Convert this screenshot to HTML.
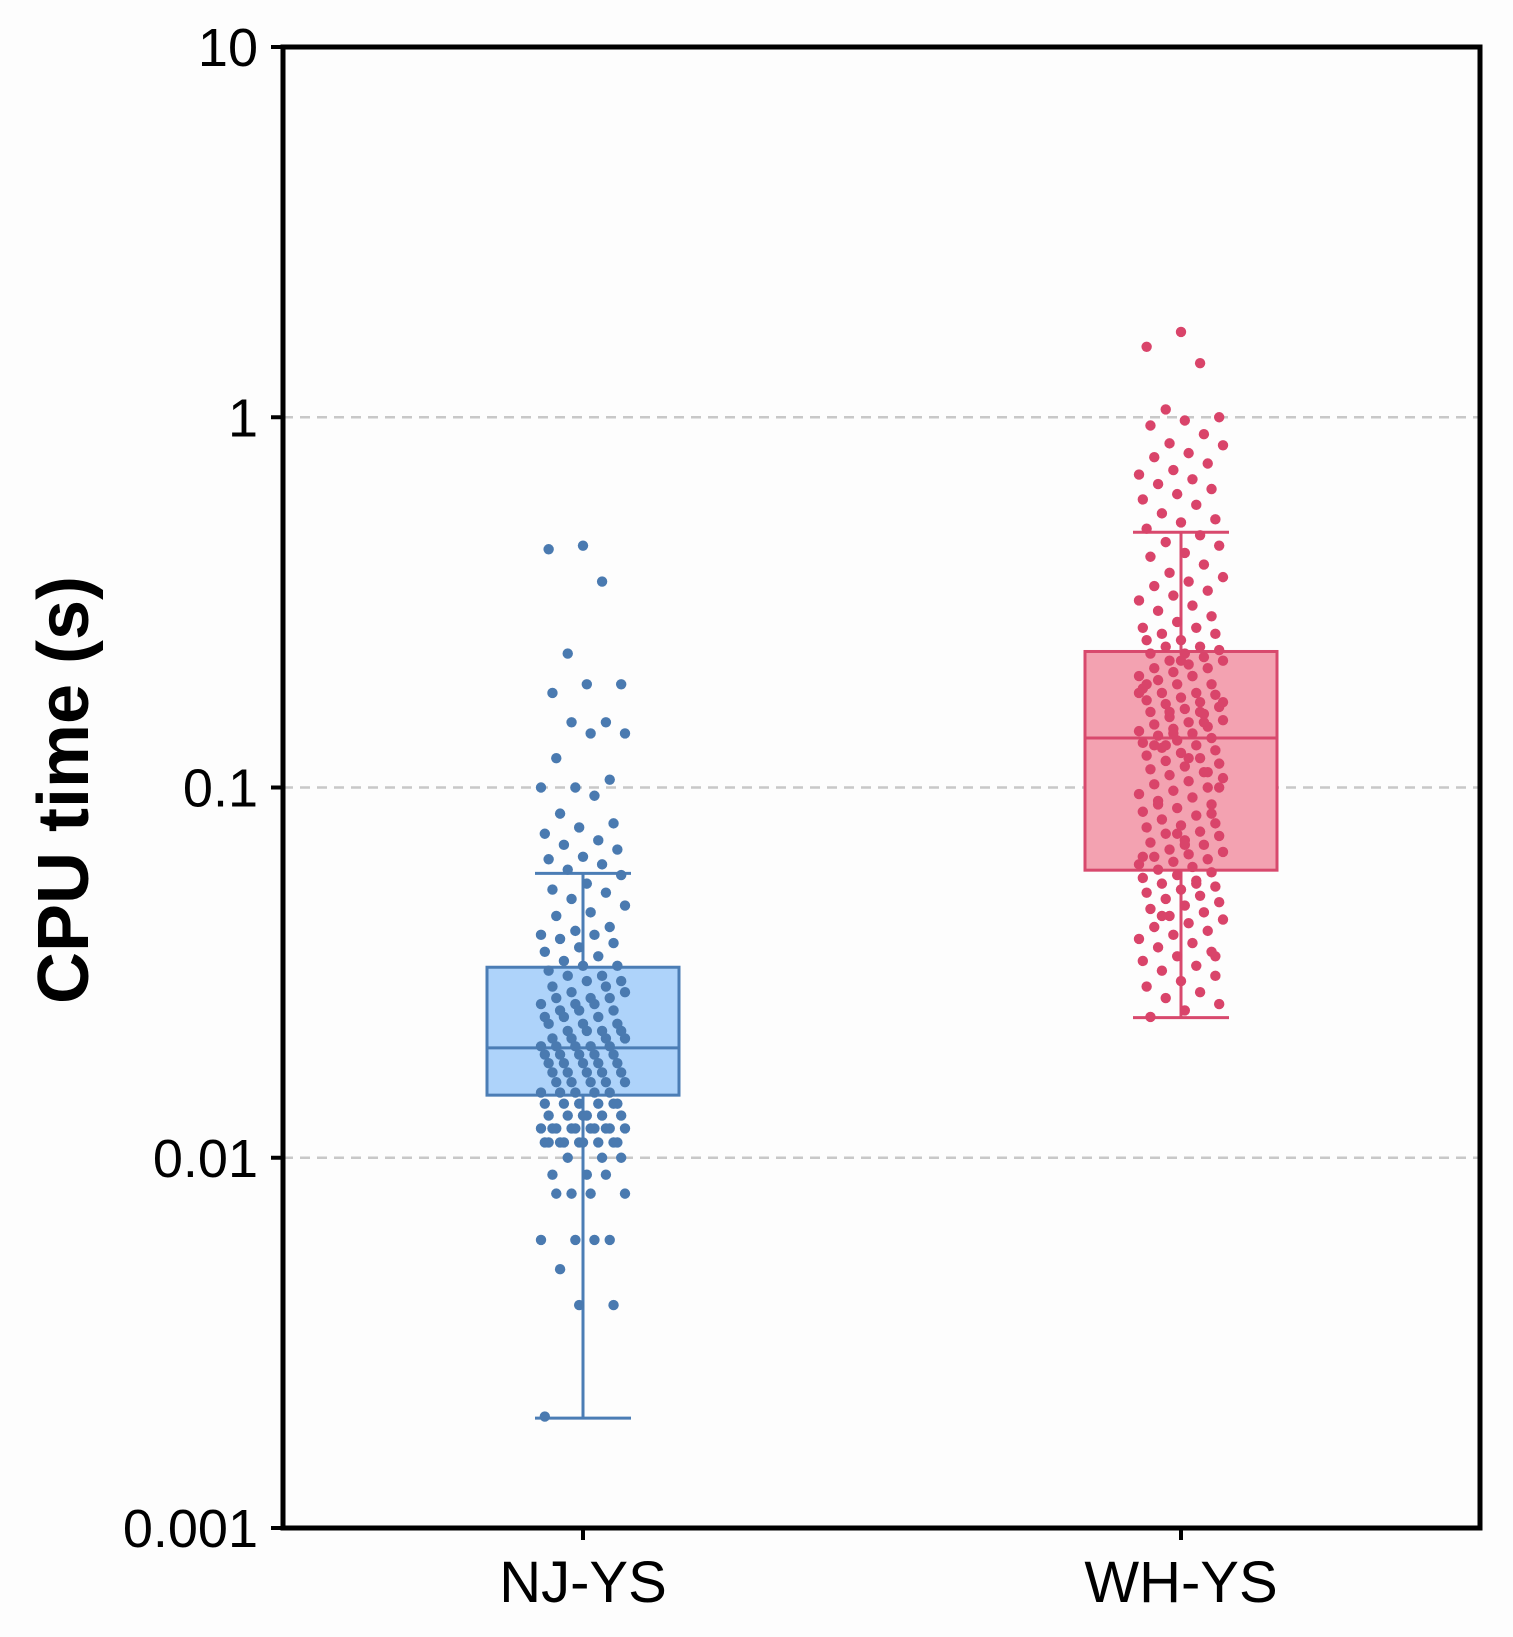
<!DOCTYPE html>
<html><head><meta charset="utf-8"><style>
html,body{margin:0;padding:0;background:#fdfdfd;}
svg{display:block;font-family:"Liberation Sans",Arial,sans-serif;}
</style></head><body>
<svg id="chart" width="1513" height="1637" viewBox="0 0 1513 1637" xmlns="http://www.w3.org/2000/svg">
<rect x="0" y="0" width="1513" height="1637" fill="#fdfdfd"/>
<g id="grid"></g>
<g id="boxes"></g>
<g id="pts"></g>
<g id="axes"></g>
<text transform="translate(88,790) rotate(-90)" text-anchor="middle" font-size="72" font-weight="bold" fill="#000">CPU time (s)</text>
</svg>
<script>
const categories = ["NJ-YS","WH-YS"];
const yTicks = [10,1,0.1,0.01,0.001];
const yTickLabels = ["10","1","0.1","0.01","0.001"];
const gridValues = [1,0.1,0.01];
// box stats: [lowerWhisker, q1, median, q3, upperWhisker]
const njStats = [0.00198,0.01476,0.0198,0.0327,0.0586];
const whStats = [0.0239,0.0598,0.136,0.233,0.489];
const njValues = [0.45,0.44,0.36,0.23,0.19,0.19,0.18,0.15,0.15,0.14,0.14,0.12,0.105,0.10,0.10,0.095,0.085,0.08,0.078,0.075,0.072,0.07,0.068,0.065,0.064,0.062,0.06,0.058,0.055,0.053,0.052,0.05,0.048,0.046,0.045,0.042,0.041,0.04,0.04,0.039,0.038,0.037,0.036,0.035,0.034,0.033,0.033,0.032,0.031,0.031,0.030,0.030,0.029,0.029,0.028,0.028,0.027,0.027,0.027,0.026,0.026,0.026,0.025,0.025,0.025,0.024,0.024,0.024,0.023,0.023,0.023,0.022,0.022,0.022,0.022,0.021,0.021,0.021,0.021,0.020,0.020,0.020,0.020,0.020,0.019,0.019,0.019,0.019,0.019,0.018,0.018,0.018,0.018,0.018,0.017,0.017,0.017,0.017,0.017,0.016,0.016,0.016,0.016,0.016,0.015,0.015,0.015,0.015,0.015,0.014,0.014,0.014,0.014,0.014,0.014,0.013,0.013,0.013,0.013,0.013,0.013,0.012,0.012,0.012,0.012,0.012,0.012,0.012,0.012,0.012,0.012,0.011,0.011,0.011,0.011,0.011,0.011,0.011,0.011,0.011,0.010,0.010,0.010,0.009,0.009,0.009,0.008,0.008,0.008,0.008,0.006,0.006,0.006,0.006,0.005,0.004,0.004,0.002];
const whValues = [1.7,1.55,1.4,1.05,1.0,0.98,0.95,0.9,0.85,0.84,0.8,0.78,0.75,0.72,0.7,0.68,0.66,0.64,0.62,0.6,0.58,0.55,0.53,0.52,0.5,0.48,0.46,0.45,0.43,0.42,0.4,0.38,0.37,0.36,0.35,0.34,0.33,0.32,0.31,0.30,0.29,0.28,0.27,0.27,0.26,0.26,0.25,0.25,0.24,0.24,0.235,0.23,0.23,0.225,0.22,0.22,0.215,0.21,0.21,0.205,0.2,0.2,0.195,0.19,0.19,0.185,0.18,0.18,0.178,0.175,0.172,0.17,0.168,0.165,0.163,0.16,0.158,0.155,0.152,0.15,0.148,0.146,0.144,0.142,0.14,0.138,0.136,0.134,0.132,0.13,0.128,0.126,0.124,0.122,0.12,0.118,0.116,0.114,0.112,0.11,0.108,0.106,0.104,0.102,0.1,0.098,0.096,0.094,0.092,0.09,0.088,0.086,0.084,0.082,0.08,0.079,0.078,0.076,0.075,0.074,0.072,0.071,0.07,0.068,0.067,0.066,0.065,0.064,0.063,0.062,0.061,0.06,0.059,0.058,0.057,0.056,0.055,0.054,0.053,0.052,0.051,0.05,0.049,0.048,0.047,0.046,0.045,0.044,0.043,0.042,0.041,0.04,0.039,0.038,0.037,0.036,0.035,0.034,0.033,0.032,0.031,0.03,0.029,0.028,0.027,0.026,0.025,0.024,0.15,0.16,0.17,0.12,0.13,0.11,0.14,0.18,0.2,0.09,0.085,0.075,0.065,0.055,0.045,0.035,0.22,0.19,0.16,0.13,0.1,0.07];

const L=283,R=1480,T=47,B=1528;
const centers=[583,1181];
function y(v){return T+(1-Math.log10(v))*(B-T)/4;}
const NS="http://www.w3.org/2000/svg";
function mk(tag,attrs,parent){const e=document.createElementNS(NS,tag);for(const k in attrs)e.setAttribute(k,attrs[k]);parent.appendChild(e);return e;}
const grid=document.getElementById('grid'),boxes=document.getElementById('boxes'),pts=document.getElementById('pts'),axes=document.getElementById('axes');
gridValues.forEach(v=>{
  const l=mk('line',{x1:L,x2:R,y1:y(v),y2:y(v),stroke:'#c8c8c8','stroke-width':2.5,'stroke-dasharray':'10,7'},grid);
  
  
});
const styles=[{fill:'#aed3fa',stroke:'#4b7db5',pt:'#4a7ab0'},{fill:'#f3a2b1',stroke:'#d8496d',pt:'#d9446a'}];
[njStats,whStats].forEach((s,i)=>{
  const c=centers[i],st=styles[i],hw=96,cw=48;
  const g=mk('g',{},boxes);
  
  
  mk('line',{x1:c,x2:c,y1:y(s[4]),y2:y(s[0]),stroke:st.stroke,'stroke-width':3},g);
  mk('line',{x1:c-cw,x2:c+cw,y1:y(s[4]),y2:y(s[4]),stroke:st.stroke,'stroke-width':3},g);
  mk('line',{x1:c-cw,x2:c+cw,y1:y(s[0]),y2:y(s[0]),stroke:st.stroke,'stroke-width':3},g);
  mk('rect',{x:c-hw,y:y(s[3]),width:2*hw,height:y(s[1])-y(s[3]),fill:st.fill,stroke:st.stroke,'stroke-width':3},g);
  mk('line',{x1:c-hw,x2:c+hw,y1:y(s[2]),y2:y(s[2]),stroke:st.stroke,'stroke-width':3},g);
});
[njValues,whValues].forEach((vals,i)=>{
  const c=centers[i],st=styles[i];
  vals.forEach((v,k)=>{
    const j=(((k*37+11)%23)/11-1)*42;
    const p=mk('circle',{cx:c+j,cy:y(v),r:5.2,fill:st.pt},pts);
    
    
  });
});
const fr=mk('rect',{x:L,y:T,width:R-L,height:B-T,fill:'none',stroke:'#000','stroke-width':5},axes);


yTicks.forEach((v,k)=>{
  mk('line',{x1:L-12,x2:L,y1:y(v),y2:y(v),stroke:'#000','stroke-width':4},axes);
  const t=mk('text',{x:L-25,y:y(v)+19,'text-anchor':'end','font-size':54,fill:'#000'},axes);
  t.textContent=yTickLabels[k];
  
  
});
categories.forEach((c,i)=>{
  mk('line',{x1:centers[i],x2:centers[i],y1:B,y2:B+12,stroke:'#000','stroke-width':4},axes);
  const t=mk('text',{x:centers[i],y:B+74,'text-anchor':'middle','font-size':58,fill:'#000'},axes);
  t.textContent=c;
  
  
});
</script>
</body></html>
